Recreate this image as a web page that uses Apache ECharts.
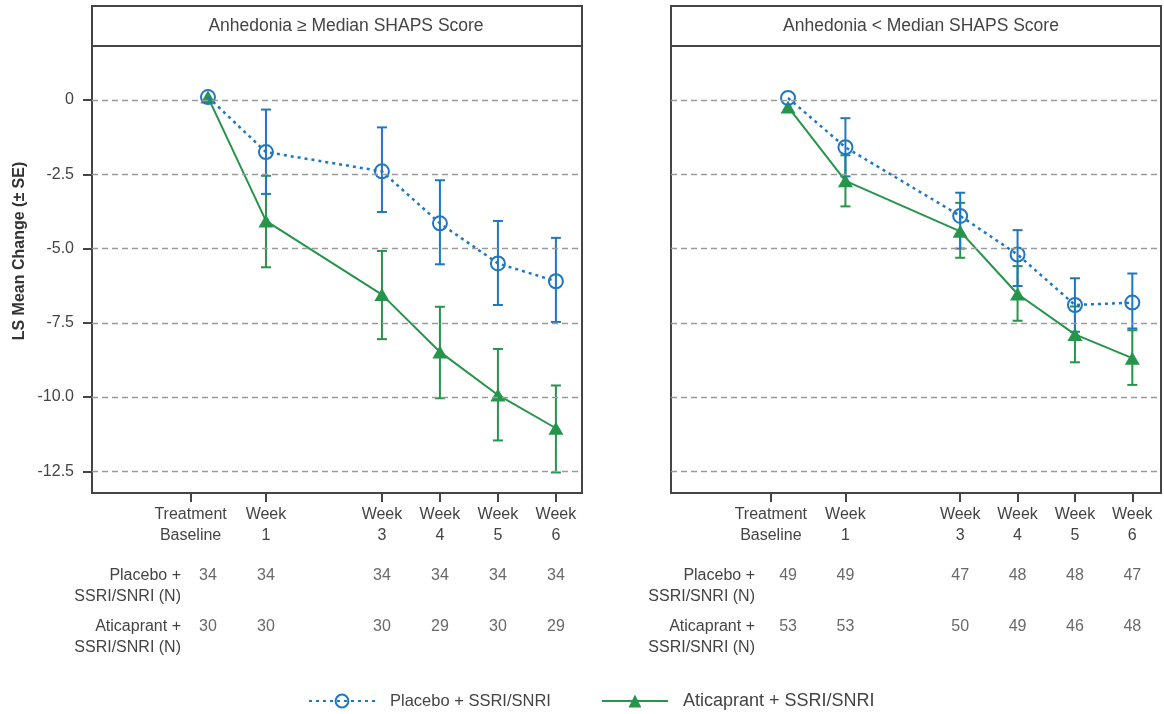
<!DOCTYPE html>
<html><head><meta charset="utf-8">
<script src="https://cdn.jsdelivr.net/npm/echarts@6/dist/echarts.min.js"></script>
<style>html,body{margin:0;padding:0;background:#fff}#c{width:1164px;height:714px}</style>
</head><body><div id="c"></div>
<script>
// ---------- data ----------
const weeks = [0, 1, 3, 4, 5, 6];
const tickWeeks = [-0.3, 1, 3, 4, 5, 6];
const tickLabels = ['Treatment\nBaseline', 'Week\n1', 'Week\n3', 'Week\n4', 'Week\n5', 'Week\n6'];
const yTicks = [-12.5, -10, -7.5, -5, -2.5, 0];
const panelTitles = ['Anhedonia \u2265 Median SHAPS Score', 'Anhedonia < Median SHAPS Score'];
const seriesNames = ['Placebo + SSRI/SNRI', 'Aticaprant + SSRI/SNRI'];
const rowLabels = ['Placebo +\nSSRI/SNRI (N)', 'Aticaprant +\nSSRI/SNRI (N)'];
const yTitle = 'LS Mean Change (\u00b1 SE)';

// Panel 1: Anhedonia >= median
const hiPlaceboMean  = [0.1, -1.75, -2.4, -4.15, -5.5, -6.1];
const hiPlaceboUpper = [null, -0.32, -0.92, -2.70, -4.07, -4.64];
const hiPlaceboLower = [null, -3.16, -3.77, -5.53, -6.90, -7.47];
const hiAtiMean      = [0.1, -4.07, -6.55, -8.48, -9.93, -11.05];
const hiAtiUpper     = [null, -2.55, -5.08, -6.96, -8.38, -9.61];
const hiAtiLower     = [null, -5.63, -8.05, -10.04, -11.46, -12.54];
const hiPlaceboN     = [34, 34, 34, 34, 34, 34];
const hiAtiN         = [30, 30, 30, 29, 30, 29];

// Panel 2: Anhedonia < median
const loPlaceboMean  = [0.07, -1.59, -3.9, -5.2, -6.9, -6.82];
const loPlaceboUpper = [null, -0.61, -3.12, -4.38, -6.0, -5.84];
const loPlaceboLower = [null, -2.57, -5.0, -6.26, -7.8, -7.69];
const loAtiMean      = [-0.23, -2.72, -4.42, -6.53, -7.89, -8.69];
const loAtiUpper     = [null, -1.86, -3.46, -5.59, -6.95, -7.75];
const loAtiLower     = [null, -3.58, -5.31, -7.43, -8.83, -9.59];
const loPlaceboN     = [49, 49, 47, 48, 48, 47];
const loAtiN         = [53, 53, 50, 49, 46, 48];

// ---------- styling / layout ----------
const FONT = 'Liberation Sans, Arial, Helvetica, sans-serif';
const TXT = '#444';
const FRAME = '#454545';
const BLUE = '#1f77c2';
const GREEN = '#26944a';
const panels = [
  {left: 92, width: 490, xMin: -2.0, xMax: 6.45, title: panelTitles[0], titleX: 346, rowX: 181,
   pm: hiPlaceboMean, pu: hiPlaceboUpper, pl: hiPlaceboLower,
   am: hiAtiMean, au: hiAtiUpper, al: hiAtiLower, pn: hiPlaceboN, an: hiAtiN},
  {left: 671, width: 490, xMin: -2.04, xMax: 6.5, title: panelTitles[1], titleX: 921, rowX: 755,
   pm: loPlaceboMean, pu: loPlaceboUpper, pl: loPlaceboLower,
   am: loAtiMean, au: loAtiUpper, al: loAtiLower, pn: loPlaceboN, an: loAtiN}
];
const plotTop = 46, plotH = 447, yMin = -13.23, yMax = 1.82;

const grid = [], xAxis = [], yAxis = [], series = [], graphic = [];

function errBar(ax, up, lo, color, z) {
  const data = [];
  weeks.forEach((w, i) => { if (up[i] != null) data.push([w, lo[i], up[i]]); });
  return {
    type: 'custom', xAxisIndex: ax, yAxisIndex: ax, z: z, silent: true,
    data: data, encode: {x: 0, y: [1, 2]},
    renderItem: (params, api) => {
      const x = api.value(0);
      const a = api.coord([x, api.value(2)]);
      const b = api.coord([x, api.value(1)]);
      const w = 5;
      const st = {stroke: color, lineWidth: 2};
      return {type: 'group', children: [
        {type: 'line', shape: {x1: a[0], y1: a[1], x2: b[0], y2: b[1]}, style: st},
        {type: 'line', shape: {x1: a[0] - w, y1: a[1], x2: a[0] + w, y2: a[1]}, style: st},
        {type: 'line', shape: {x1: b[0] - w, y1: b[1], x2: b[0] + w, y2: b[1]}, style: st}
      ]};
    }
  };
}

panels.forEach((P, p) => {
  const a = 2 * p;      // plot grid / axes index
  const g = 2 * p + 1;  // N-table grid / axes index

  // ---- plot ----
  grid.push({left: P.left, top: plotTop, width: P.width, height: plotH,
    show: true, borderColor: FRAME, borderWidth: 2, backgroundColor: 'transparent'});
  xAxis.push({type: 'value', gridIndex: a, min: P.xMin, max: P.xMax, position: 'bottom',
    axisLine: {show: false, onZero: false},
    axisTick: {show: true, customValues: tickWeeks, length: 9, lineStyle: {color: FRAME, width: 2}},
    axisLabel: {show: true, customValues: tickWeeks, margin: 11, color: TXT, fontSize: 16,
      fontFamily: FONT, lineHeight: 21, align: 'center',
      formatter: v => { const i = tickWeeks.findIndex(t => Math.abs(t - v) < 1e-6); return i >= 0 ? tickLabels[i] : ''; }},
    splitLine: {show: false}});
  yAxis.push({type: 'value', gridIndex: a, min: yMin, max: yMax, position: 'left',
    axisLine: {show: false, onZero: false},
    axisTick: {show: p === 0, customValues: yTicks, length: 9, lineStyle: {color: FRAME, width: 2}},
    axisLabel: {show: p === 0, customValues: yTicks, margin: 18, color: TXT, fontSize: 16, fontFamily: FONT,
      formatter: v => (v === 0 ? '0' : v.toFixed(1))},
    splitLine: {show: false}});

  // ---- N table ----
  grid.push({left: P.left, top: 576, width: P.width, height: 51, show: false});
  xAxis.push({type: 'value', gridIndex: g, min: P.xMin, max: P.xMax, show: false});
  yAxis.push({type: 'value', gridIndex: g, min: 0, max: 1, inverse: true, show: false});

  // grid lines
  series.push({type: 'line', xAxisIndex: a, yAxisIndex: a, data: [], z: 1, silent: true,
    markLine: {silent: true, symbol: 'none', animation: false, label: {show: false},
      lineStyle: {type: [6, 4], color: '#9a9a9a', width: 1.3},
      emphasis: {disabled: true},
      data: yTicks.map(v => ({yAxis: v}))}});

  series.push(errBar(a, P.au, P.al, GREEN, 2));
  series.push(errBar(a, P.pu, P.pl, BLUE, 2));

  series.push({type: 'line', name: seriesNames[1], xAxisIndex: a, yAxisIndex: a, z: 3,
    data: weeks.map((w, i) => [w, P.am[i]]),
    symbol: 'triangle', symbolSize: [15, 13], color: GREEN,
    itemStyle: {color: GREEN},
    lineStyle: {color: GREEN, width: 2}});
  series.push({type: 'line', name: seriesNames[0], xAxisIndex: a, yAxisIndex: a, z: 4,
    data: weeks.map((w, i) => [w, P.pm[i]]),
    symbol: 'circle', symbolSize: 14, color: BLUE,
    itemStyle: {color: 'rgba(255,255,255,0)', borderColor: BLUE, borderWidth: 2},
    lineStyle: {color: BLUE, width: 2.5, type: [3, 4]}});

  series.push({type: 'scatter', xAxisIndex: g, yAxisIndex: g, silent: true,
    symbolSize: 1, itemStyle: {color: 'rgba(0,0,0,0)'},
    label: {show: true, position: 'inside', formatter: d => String(d.value[2]),
      color: TXT, fontSize: 16, fontFamily: FONT},
    data: weeks.map((w, i) => [w, 0, P.pn[i]]).concat(weeks.map((w, i) => [w, 1, P.an[i]]))});

  // header strip
  graphic.push({type: 'rect', shape: {x: P.left, y: 6, width: P.width, height: 40},
    style: {fill: '#fff', stroke: FRAME, lineWidth: 2}, z: 10});
  graphic.push({type: 'text', x: P.titleX, y: 26, z: 11,
    style: {text: P.title, fill: TXT, fontSize: 17.5, fontFamily: FONT, align: 'center', verticalAlign: 'middle'}});
  // row labels
  graphic.push({type: 'text', x: P.rowX, y: 565.5, z: 11,
    style: {text: rowLabels[0], fill: TXT, fontSize: 16, fontFamily: FONT, align: 'right', verticalAlign: 'top', lineHeight: 21}});
  graphic.push({type: 'text', x: P.rowX, y: 616.5, z: 11,
    style: {text: rowLabels[1], fill: TXT, fontSize: 16, fontFamily: FONT, align: 'right', verticalAlign: 'top', lineHeight: 20.5}});
});

graphic.push({type: 'text', x: 20, y: 251, rotation: Math.PI / 2, z: 11,
  style: {text: yTitle, fill: '#333', fontSize: 16, fontWeight: 'bold', fontFamily: FONT, align: 'center', verticalAlign: 'middle'}});

const chart = echarts.init(document.getElementById('c'), null, {renderer: 'canvas'});
chart.setOption({
  animation: false,
  backgroundColor: '#fff',
  textStyle: {fontFamily: FONT},
  grid, xAxis, yAxis, series, graphic,
  legend: {
    data: seriesNames, left: 308, top: 692, padding: 0, itemWidth: 66, itemHeight: 16, itemGap: 50,
    selectedMode: false,
    textStyle: {color: TXT, fontFamily: FONT, fontSize: 16,
      rich: {a: {fontSize: 16.5, color: TXT, fontFamily: FONT, padding: [0, 0, 0, 10]},
             b: {fontSize: 18, color: TXT, fontFamily: FONT, padding: [0, 0, 0, 10]}}},
    formatter: n => (n === seriesNames[1] ? '{b|' + n + '}' : '{a|' + n + '}')
  }
});
</script></body></html>
